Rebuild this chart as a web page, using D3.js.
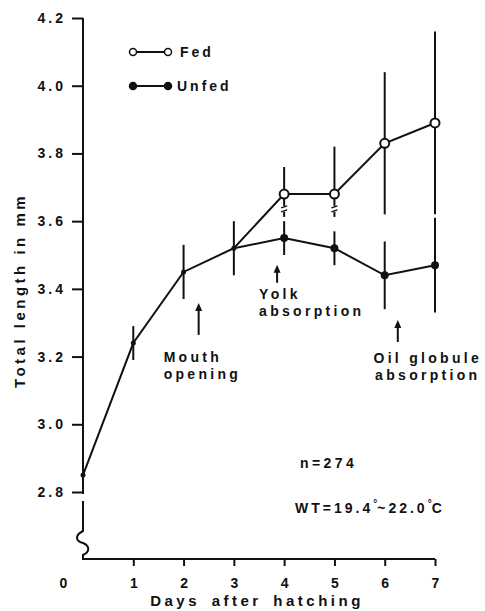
<!DOCTYPE html>
<html>
<head>
    <title>Total length of larvae</title>
    <script src="https://cdnjs.cloudflare.com/ajax/libs/d3/7.8.5/d3.min.js"></script>
    <style>
        body { margin: 0; background: #fff; }
        svg text {
            font-family: 'Liberation Sans', Arial, sans-serif;
            font-weight: bold;
            fill: #111;
        }
    </style>
</head>
<body>
    <div id="chart"></div>

    <script>
//------------------------------------DATA--------------------------
        var days = [0, 1, 2, 3, 4, 5, 6, 7];
        var fedMean = [2.85, 3.24, 3.45, 3.52, 3.68, 3.68, 3.83, 3.89];
        var fedSD = [0, 0.05, 0.08, 0.08, 0.08, 0.14, 0.21, 0.27];
        var unfedMean = [2.85, 3.24, 3.45, 3.52, 3.55, 3.52, 3.44, 3.47];
        var unfedSD = [0, 0.05, 0.08, 0.08, 0.05, 0.05, 0.10, 0.14];
        var splitDay = 3;          // both groups share the same fish up to day 3
        var brokenDays = [4, 5];   // fed bars drawn broken where they run into unfed
        var yTicks = [2.8, 3.0, 3.2, 3.4, 3.6, 3.8, 4.0, 4.2];
        var xTicks = [0, 1, 2, 3, 4, 5, 6, 7];
        var notes = [
            { day: 2.3, from: 3.358, to: 3.264, lines: ["Mouth", "opening"], anchor: "start", dx: -35, dy: 27 },
            { day: 3.86, from: 3.471, to: 3.418, lines: ["Yolk", "absorption"], anchor: "start", dx: -18, dy: 16 },
            { day: 6.26, from: 3.308, to: 3.243, lines: ["Oil globule", "absorption"], anchor: "middle", dx: 30, dy: 21 }
        ];
//------------------------------------FINISHED----------------------

//------------------------------------MAKES THE BOX--------------------------
        var W = 485, H = 611;
        var svg = d3.select("#chart").append("svg")
            .attr("width", W)
            .attr("height", H);

        var x = d3.scaleLinear().domain([0, 7]).range([83, 435]);
        var y = d3.scaleLinear().domain([2.8, 4.2]).range([492, 18]);
        var baseY = 559;
        var ink = "#111";
//------------------------------------FINISHED----------------------

//------------------------------------MAKES THE AXES--------------------------------
        var yAxis = svg.append("g")
            .attr("transform", "translate(" + x(0) + ",0)")
            .call(d3.axisLeft(y).tickValues(yTicks).tickSize(11).tickPadding(6)
                .tickFormat(d3.format(".1f")));
        yAxis.select(".domain").remove();
        yAxis.selectAll("line").attr("stroke", ink).attr("stroke-width", 2);
        yAxis.selectAll("text")
            .attr("font-size", 14)
            .attr("letter-spacing", 3)
            .attr("font-family", null);

        // y axis line with a break below 2.8
        var ax = x(0);
        svg.append("path")
            .attr("d", "M" + ax + "," + y(4.2) + "V" + (y(2.8) + 2)
                + "M" + ax + "," + (y(2.8) + 9) + "V" + 531
                + "C" + (ax - 8) + ",535 " + (ax - 8) + ",541 " + ax + ",543"
                + "C" + (ax + 7) + ",546 " + (ax + 7) + ",552 " + ax + ",555"
                + "V" + baseY + "H" + x(7))
            .attr("fill", "none")
            .attr("stroke", ink)
            .attr("stroke-width", 2);

        var xAxis = svg.append("g")
            .attr("transform", "translate(0," + baseY + ")")
            .call(d3.axisBottom(x).tickValues(xTicks).tickSize(7).tickPadding(12)
                .tickFormat(d3.format("d")));
        xAxis.select(".domain").remove();
        xAxis.selectAll("line").attr("stroke", ink).attr("stroke-width", 2);
        xAxis.selectAll("text")
            .attr("font-size", 14)
            .attr("font-family", null);
        // the 0 sits left of the axis, without a tick
        xAxis.selectAll(".tick").filter(function (d) { return d === 0; })
            .call(function (t) {
                t.select("line").remove();
                t.select("text").attr("x", -20);
            });

        svg.append("text")
            .attr("transform", "translate(25," + ((y(4.2) + baseY) / 2 + 2) + ") rotate(-90)")
            .attr("text-anchor", "middle")
            .attr("font-size", 15)
            .attr("letter-spacing", 3.5)
            .text("Total length in mm");

        svg.append("text")
            .attr("x", 257)
            .attr("y", 606)
            .attr("text-anchor", "middle")
            .attr("font-size", 15)
            .attr("letter-spacing", 3.5)
            .attr("word-spacing", 4)
            .text("Days after hatching");
//----------------------------------FINISHED--------------------------------------

//------------------------------------ERROR BARS--------------------------------
        var bars = svg.append("g")
            .attr("stroke", ink)
            .attr("stroke-width", 2);

        days.forEach(function (d, i) {
            if (i === 0) return;
            if (d <= splitDay) {
                bars.append("line")
                    .attr("x1", x(d)).attr("x2", x(d))
                    .attr("y1", y(fedMean[i] + fedSD[i]))
                    .attr("y2", y(fedMean[i] - fedSD[i]));
                return;
            }
            var cut = brokenDays.indexOf(d) >= 0;
            bars.append("line")
                .attr("x1", x(d)).attr("x2", x(d))
                .attr("y1", y(fedMean[i] + fedSD[i]))
                .attr("y2", y(cut ? fedMean[i] - 0.035 : fedMean[i] - fedSD[i]));
            if (cut) {
                // broken bar marks
                var by = y(fedMean[i] - 0.035);
                bars.append("line")
                    .attr("x1", x(d) - 3).attr("x2", x(d) + 3)
                    .attr("y1", by + 2).attr("y2", by)
                    .attr("stroke-width", 1.5);
                bars.append("line")
                    .attr("x1", x(d) - 3).attr("x2", x(d) + 3)
                    .attr("y1", by + 6).attr("y2", by + 4)
                    .attr("stroke-width", 1.5);
                bars.append("line")
                    .attr("x1", x(d)).attr("x2", x(d))
                    .attr("y1", by + 6).attr("y2", by + 11);
            }
            bars.append("line")
                .attr("x1", x(d)).attr("x2", x(d))
                .attr("y1", y(unfedMean[i] + unfedSD[i]))
                .attr("y2", y(unfedMean[i] - unfedSD[i]));
        });
//----------------------------------FINISHED--------------------------------------

//------------------------------------LINES AND POINTS--------------------------------
        var line = d3.line()
            .x(function (d) { return x(d[0]); })
            .y(function (d) { return y(d[1]); });

        var fedPts = days.map(function (d, i) { return [d, fedMean[i]]; });
        var unfedPts = days.map(function (d, i) { return [d, unfedMean[i]]; })
            .filter(function (p) { return p[0] >= splitDay; });

        svg.append("path").datum(fedPts)
            .attr("d", line).attr("fill", "none")
            .attr("stroke", ink).attr("stroke-width", 2);
        svg.append("path").datum(unfedPts)
            .attr("d", line).attr("fill", "none")
            .attr("stroke", ink).attr("stroke-width", 2);

        // shared points
        svg.selectAll(".shared")
            .data(fedPts.filter(function (p) { return p[0] <= splitDay; }))
            .enter().append("circle")
            .attr("cx", function (p) { return x(p[0]); })
            .attr("cy", function (p) { return y(p[1]); })
            .attr("r", 2.5)
            .attr("fill", ink);

        svg.selectAll(".unfed")
            .data(unfedPts.filter(function (p) { return p[0] > splitDay; }))
            .enter().append("circle")
            .attr("cx", function (p) { return x(p[0]); })
            .attr("cy", function (p) { return y(p[1]); })
            .attr("r", 4)
            .attr("fill", ink);

        svg.selectAll(".fed")
            .data(fedPts.filter(function (p) { return p[0] > splitDay; }))
            .enter().append("circle")
            .attr("cx", function (p) { return x(p[0]); })
            .attr("cy", function (p) { return y(p[1]); })
            .attr("r", 4.5)
            .attr("fill", "#fff")
            .attr("stroke", ink)
            .attr("stroke-width", 2);
//----------------------------------FINISHED--------------------------------------

//------------------------------------LEGEND--------------------------------
        var legend = [
            { name: "Fed", fill: "#fff", r: 3.5, yy: 52, tx: 180 },
            { name: "Unfed", fill: ink, r: 3.5, yy: 86, tx: 177 }
        ];
        legend.forEach(function (l) {
            svg.append("line")
                .attr("x1", 133).attr("x2", 168)
                .attr("y1", l.yy).attr("y2", l.yy)
                .attr("stroke", ink).attr("stroke-width", 2);
            [133, 168].forEach(function (cx) {
                svg.append("circle")
                    .attr("cx", cx).attr("cy", l.yy).attr("r", l.r)
                    .attr("fill", l.fill).attr("stroke", ink).attr("stroke-width", 1.5);
            });
            svg.append("text")
                .attr("x", l.tx).attr("y", l.yy + 5)
                .attr("font-size", 14)
                .attr("letter-spacing", 3)
                .text(l.name);
        });
//----------------------------------FINISHED--------------------------------------

//------------------------------------ANNOTATIONS--------------------------------
        notes.forEach(function (n) {
            var ax0 = x(n.day), top = y(n.from), bot = y(n.to);
            svg.append("line")
                .attr("x1", ax0).attr("x2", ax0)
                .attr("y1", bot).attr("y2", top + 5)
                .attr("stroke", ink).attr("stroke-width", 2);
            svg.append("path")
                .attr("d", "M" + ax0 + "," + top + "L" + (ax0 + 3.5) + "," + (top + 8)
                    + "L" + (ax0 - 3.5) + "," + (top + 8) + "Z")
                .attr("fill", ink);
            var t = svg.append("text")
                .attr("x", ax0 + n.dx)
                .attr("y", bot + n.dy)
                .attr("text-anchor", n.anchor)
                .attr("font-size", 14)
                .attr("letter-spacing", 3.3);
            n.lines.forEach(function (s, k) {
                t.append("tspan")
                    .attr("x", ax0 + n.dx)
                    .attr("dy", k === 0 ? 0 : 17)
                    .text(s);
            });
        });

        svg.append("text")
            .attr("x", 300).attr("y", 468)
            .attr("font-size", 14)
            .attr("letter-spacing", 3.4)
            .text("n=274");

        var wt = svg.append("text")
            .attr("x", 295).attr("y", 513)
            .attr("font-size", 14)
            .attr("letter-spacing", 3);
        wt.append("tspan").text("WT=19.4");
        wt.append("tspan").attr("dy", -6).attr("font-size", 10).attr("letter-spacing", 0).text("°");
        wt.append("tspan").attr("dy", 6).text("~22.0");
        wt.append("tspan").attr("dy", -6).attr("font-size", 10).attr("letter-spacing", 0).text("°");
        wt.append("tspan").attr("dy", 6).text("C");
//----------------------------------FINISHED--------------------------------------
    </script>
</body>
</html>
